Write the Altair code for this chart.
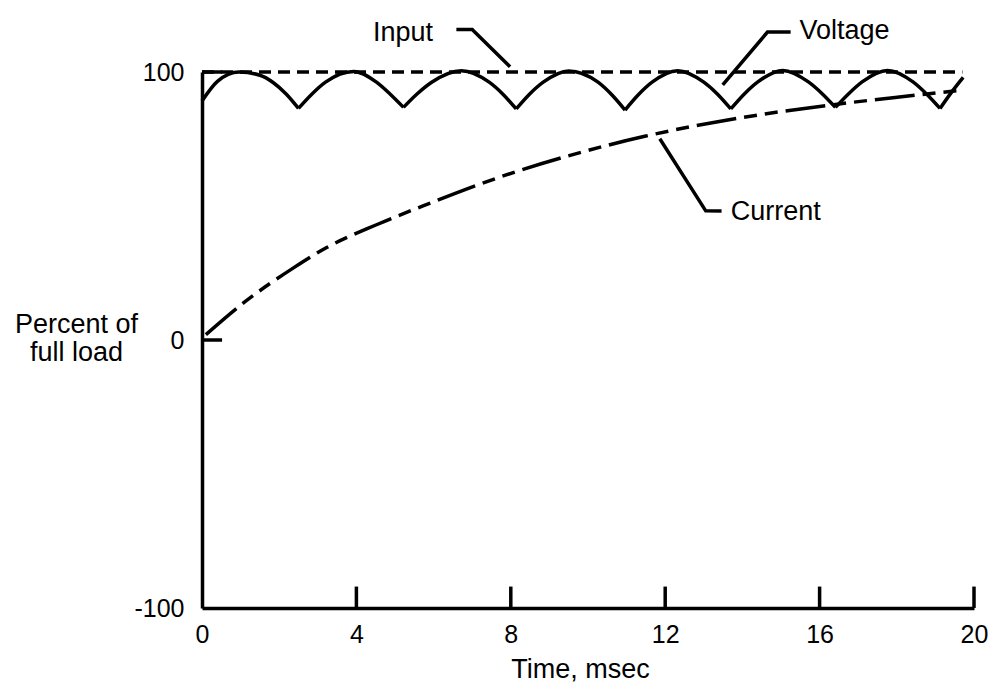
import altair as alt
import pandas as pd

# ---- axis ticks / labels ----
x_label_values = [0, 4, 8, 12, 16, 20]
x_tick_values = [4, 8, 12, 16, 20]
y_label_values = [-100, 0, 100]
y_tick_values = [100, 0]

# ---- series ----
input_t = [0, 19.7]
input_v = [100, 100]

# voltage: one list per rectified arch (cusp to cusp)
voltage_t = [
    [0.0, 0.4, 0.96, 1.5, 1.85, 2.18, 2.5],
    [2.5, 2.85, 3.2, 3.93, 4.52, 4.87, 5.22],
    [5.22, 5.57, 5.95, 6.72, 7.44, 7.79, 8.14],
    [8.14, 8.49, 8.84, 9.5, 10.26, 10.61, 10.96],
    [10.96, 11.31, 11.66, 12.32, 13.0, 13.35, 13.7],
    [13.7, 14.05, 14.4, 15.05, 15.71, 16.06, 16.41],
    [16.41, 16.76, 17.11, 17.76, 18.42, 18.77, 19.12],
    [19.12, 19.42, 19.72],
]
voltage_v = [
    [89.2, 96.5, 100.0, 98.8, 96.0, 91.8, 86.4],
    [86.4, 91.8, 96.2, 100.2, 96.2, 91.8, 86.8],
    [86.8, 91.8, 96.2, 100.5, 96.2, 91.8, 86.2],
    [86.2, 91.8, 96.2, 100.4, 96.2, 91.6, 85.8],
    [85.8, 91.6, 96.2, 100.5, 96.2, 91.8, 86.2],
    [86.2, 91.8, 96.3, 100.6, 96.3, 92.0, 86.8],
    [86.8, 92.0, 96.4, 100.6, 96.3, 91.8, 86.4],
    [86.4, 92.5, 98.0],
]

current_t = [0.1, 1.09, 2.38, 3.23, 4.52, 5.81, 7.86, 9.56, 11.47, 13.18, 14.57, 16.46, 18.01, 19.74]
current_v = [2.0, 14.0, 27.0, 34.5, 43.0, 50.5, 61.5, 69.0, 76.0, 81.0, 84.3, 88.0, 90.6, 93.3]

# ---- annotations ----
label_text = ["Input", "Voltage", "Current"]
label_t = [4.43, 15.48, 13.7]
label_v = [114.7, 115.2, 47.7]

leader_name = ["Input"] * 3 + ["Voltage"] * 3 + ["Current"] * 3
leader_t = [6.59, 7.0, 7.98, 15.25, 14.65, 13.49, 11.86, 13.05, 13.46]
leader_v = [115.9, 115.9, 102.0, 114.9, 114.9, 95.2, 75.1, 48.2, 48.1]

FONT = "Liberation Sans"
SW = 3.5

# ---- tables ----
df_input = pd.DataFrame({"t": input_t, "v": input_v})
rows = []
for i, (ts, vs) in enumerate(zip(voltage_t, voltage_v)):
    for t, v in zip(ts, vs):
        rows.append({"t": t, "v": v, "arch": i})
df_voltage = pd.DataFrame(rows)
df_current = pd.DataFrame({"t": current_t, "v": current_v})
df_xticks = pd.DataFrame({"t": x_tick_values, "v": [-100] * len(x_tick_values),
                          "v2": [-92] * len(x_tick_values)})
df_yticks = pd.DataFrame({"t": [0] * len(y_tick_values), "t2": [0.52] * len(y_tick_values),
                          "v": y_tick_values})
df_labels = pd.DataFrame({"t": label_t, "v": label_v, "label": label_text})
df_leaders = pd.DataFrame({"t": leader_t, "v": leader_v, "name": leader_name,
                           "order": list(range(len(leader_t)))})

xscale = alt.Scale(domain=[0, 20], nice=False, zero=False)
yscale = alt.Scale(domain=[-100, 100], nice=False, zero=False)

xaxis = alt.Axis(
    values=x_label_values, ticks=False, tickSize=0, grid=False,
    labelFontSize=25, labelPadding=14, labelFlush=False, labelOverlap=False,
    labelFont=FONT, labelColor="black",
    domainColor="black", domainWidth=SW,
    title="Time, msec", titleFont=FONT, titleFontSize=27, titleFontWeight="normal",
    titleColor="black", titleX=378, titleY=69, titleAlign="center",
    titleBaseline="alphabetic", titleAnchor="middle",
)
yaxis = alt.Axis(
    values=y_label_values, ticks=False, tickSize=0, grid=False,
    labelFontSize=25, labelPadding=18, labelFont=FONT, labelColor="black",
    labelExpr="'' + datum.value",
    domainColor="black", domainWidth=SW,
    title=["Percent of", "full load"], titleFont=FONT, titleFontSize=27,
    titleFontWeight="normal", titleColor="black", titleAngle=0,
    titleAlign="center", titleBaseline="alphabetic", titleLineHeight=28,
    titleX=-126, titleY=260,
)

X = alt.X("t:Q", scale=xscale, axis=xaxis)
Y = alt.Y("v:Q", scale=yscale, axis=yaxis)

input_layer = alt.Chart(df_input).mark_line(
    color="black", strokeWidth=SW, strokeDash=[12, 7]
).encode(x=X, y=Y)

voltage_layer = alt.Chart(df_voltage).mark_line(
    color="black", strokeWidth=SW, interpolate="monotone"
).encode(x=X, y=Y, detail="arch:N")

current_layer = alt.Chart(df_current).mark_line(
    color="black", strokeWidth=SW, interpolate="monotone",
    strokeDash=[40, 8, 13, 8, 13, 8]
).encode(x=X, y=Y)

xtick_layer = alt.Chart(df_xticks).mark_rule(color="black", strokeWidth=SW).encode(
    x=X, y=Y, y2="v2:Q")
ytick_layer = alt.Chart(df_yticks).mark_rule(color="black", strokeWidth=SW).encode(
    x=X, x2="t2:Q", y=Y)

leader_layer = alt.Chart(df_leaders).mark_line(color="black", strokeWidth=SW).encode(
    x=X, y=Y, detail="name:N", order="order:Q")

label_layer = alt.Chart(df_labels).mark_text(
    align="left", baseline="middle", font=FONT, fontSize=27, color="black"
).encode(x=X, y=Y, text="label:N")

chart = alt.layer(
    input_layer, voltage_layer, current_layer, xtick_layer, ytick_layer,
    leader_layer, label_layer
).properties(
    width=772, height=536,
    padding={"left": 194, "top": 64, "right": 14, "bottom": 75},
    autosize=alt.AutoSizeParams(type="none"),
    background="white",
).configure_view(stroke=None)

chart.save("out.html", embed_options={"renderer": "svg", "actions": False})
